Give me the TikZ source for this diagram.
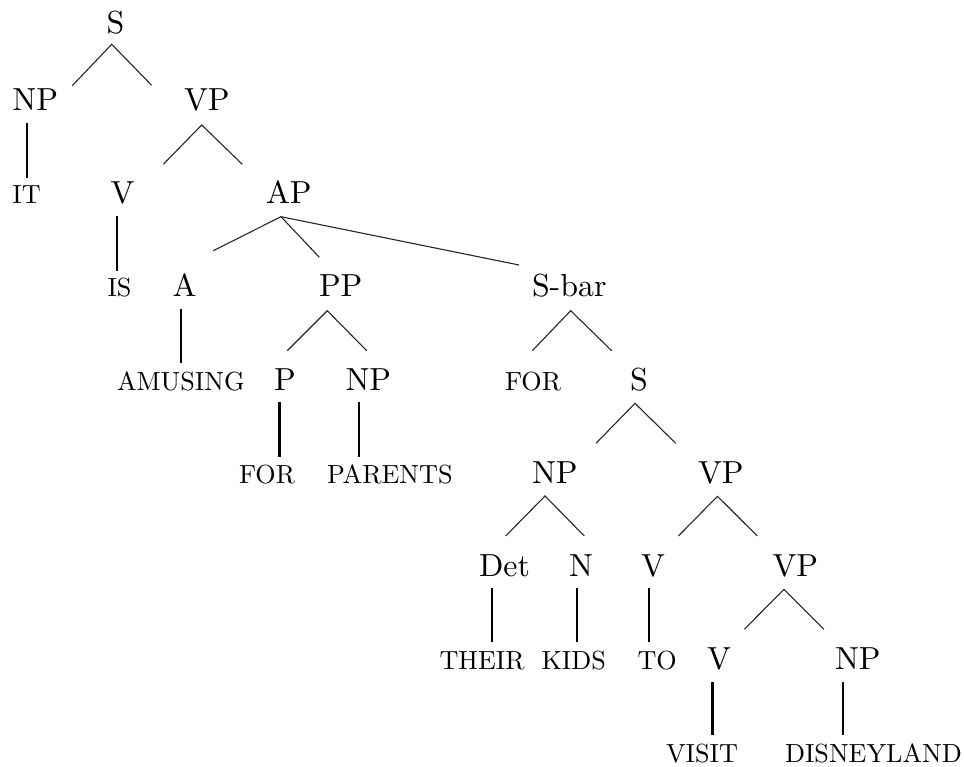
\documentclass[tikz,border=0pt]{standalone}
\begin{document}
\begin{tikzpicture}[x=1pt,y=-1pt,
  lbl/.style={anchor=base west,inner sep=0pt,outer sep=0pt,scale=3.19},
  leaf/.style={anchor=base west,inner sep=0pt,outer sep=0pt,scale=2.62},
  branch/.style={line width=1.1pt,draw=black!85},
  unary/.style={line width=2.4pt}]
\useasboundingbox (0,0) rectangle (964,767);

% category labels and words (left edge, baseline)
\node[lbl]  (S0)      at (106.5,33.3) {S};
\node[lbl]  (NP1)     at (12.5,111)   {NP};
\node[lbl]  (VP1)     at (184,111)    {VP};
\node[leaf] (IT)      at (12.5,204)   {IT};
\node[lbl]  (V2)      at (110.5,204)  {V};
\node[lbl]  (AP2)     at (266,204)    {AP};
\node[leaf] (IS)      at (107.5,297)  {IS};
\node[lbl]  (A3)      at (172.5,297)  {A};
\node[lbl]  (PP3)     at (319,297)    {PP};
\node[lbl]  (SBAR)    at (532,297)    {S-bar};
\node[leaf] (AMUSING) at (117,390)    {AMUSING};
\node[lbl]  (P4)      at (274,390)    {P};
\node[lbl]  (NP4)     at (345.5,390)  {NP};
\node[leaf] (FOR4)    at (505,390)    {FOR};
\node[lbl]  (S4)      at (630,390)    {S};
\node[leaf] (FOR5)    at (239,483)    {FOR};
\node[leaf] (PARENTS) at (327,483)    {PARENTS};
\node[lbl]  (NP5)     at (532,483.5)  {NP};
\node[lbl]  (VP5)     at (698,483.5)  {VP};
\node[lbl]  (DET)     at (479,576.7)  {Det};
\node[lbl]  (N6)      at (569,576.7)  {N};
\node[lbl]  (V6)      at (641,576.7)  {V};
\node[lbl]  (VP6)     at (772.5,576.7){VP};
\node[leaf] (THEIR)   at (439.5,669.3){THEIR};
\node[leaf] (KIDS)    at (541.5,669.3){KIDS};
\node[leaf] (TO)      at (637.5,669.3){TO};
\node[lbl]  (V7)      at (707,669.3)  {V};
\node[lbl]  (NP7)     at (835,669.3)  {NP};
\node[leaf] (VISIT)   at (666,762.5)  {VISIT};
\node[leaf] (DISNEY)  at (785,762.5)  {DISNEYLAND};

% branch points below each mother and free ends above each daughter
\coordinate (S0-m)   at (111.7,44.3);
\coordinate (NP1-d)  at (72.3,85.7);
\coordinate (VP1-d)  at (151.7,85.3);
\coordinate (VP1-m)  at (201.7,125);
\coordinate (V2-d)   at (163.3,164.3);
\coordinate (AP2-d)  at (242.3,164.3);
\coordinate (NP1-m)  at (27,123);
\coordinate (IT-d)   at (27,178);
\coordinate (V2-m)   at (116.7,216);
\coordinate (IS-d)   at (116.7,270.7);
\coordinate (AP2-m)  at (281,216.7);
\coordinate (A3-d)   at (213.3,250.7);
\coordinate (PP3-d)  at (319.3,257.3);
\coordinate (SBAR-d) at (519,265);
\coordinate (A3-m)   at (181,309.3);
\coordinate (AMUSING-d) at (181,363.3);
\coordinate (PP3-m)  at (327.3,310.7);
\coordinate (P4-d)   at (287.3,350.7);
\coordinate (NP4-d)  at (366.7,350.7);
\coordinate (SBAR-m) at (570.7,310.7);
\coordinate (FOR4-d) at (532.3,350.7);
\coordinate (S4-d)   at (611.7,350.7);
\coordinate (P4-m)   at (279.3,402);
\coordinate (FOR5-d) at (279.3,456.7);
\coordinate (NP4-m)  at (359,402);
\coordinate (PARENTS-d) at (359,456.7);
\coordinate (S4-m)   at (635,403.3);
\coordinate (NP5-d)  at (596,443.3);
\coordinate (VP5-d)  at (675.7,443.3);
\coordinate (NP5-m)  at (545,496);
\coordinate (DET-d)  at (505.7,536);
\coordinate (N6-d)   at (584.3,536);
\coordinate (VP5-m)  at (717.5,496.3);
\coordinate (V6-d)   at (678.3,536);
\coordinate (VP6-d)  at (757.3,536);
\coordinate (DET-m)  at (491.7,588.3);
\coordinate (THEIR-d) at (491.7,642.3);
\coordinate (N6-m)   at (576.7,588.3);
\coordinate (KIDS-d) at (576.7,642.3);
\coordinate (V6-m)   at (648.7,588.3);
\coordinate (TO-d)   at (648.7,642.3);
\coordinate (VP6-m)  at (784,589.3);
\coordinate (V7-d)   at (744.3,629.3);
\coordinate (NP7-d)  at (824,629.3);
\coordinate (V7-m)   at (712.3,681.7);
\coordinate (VISIT-d) at (712.3,735);
\coordinate (NP7-m)  at (842.7,681.7);
\coordinate (DISNEY-d) at (842.7,735);

% branching lines
\draw[branch] (NP1-d) -- (S0-m) -- (VP1-d);
\draw[branch] (V2-d) -- (VP1-m) -- (AP2-d);
\draw[branch] (A3-d) -- (AP2-m) -- (PP3-d);
\draw[branch] (AP2-m) -- (SBAR-d);
\draw[branch] (P4-d) -- (PP3-m) -- (NP4-d);
\draw[branch] (FOR4-d) -- (SBAR-m) -- (S4-d);
\draw[branch] (NP5-d) -- (S4-m) -- (VP5-d);
\draw[branch] (DET-d) -- (NP5-m) -- (N6-d);
\draw[branch] (V6-d) -- (VP5-m) -- (VP6-d);
\draw[branch] (V7-d) -- (VP6-m) -- (NP7-d);

% single-daughter lines
\draw[unary] (NP1-m) -- (IT-d);
\draw[unary] (V2-m) -- (IS-d);
\draw[unary] (A3-m) -- (AMUSING-d);
\draw[unary] (P4-m) -- (FOR5-d);
\draw[unary] (NP4-m) -- (PARENTS-d);
\draw[unary] (DET-m) -- (THEIR-d);
\draw[unary] (N6-m) -- (KIDS-d);
\draw[unary] (V6-m) -- (TO-d);
\draw[unary] (V7-m) -- (VISIT-d);
\draw[unary] (NP7-m) -- (DISNEY-d);
\end{tikzpicture}
\end{document}
